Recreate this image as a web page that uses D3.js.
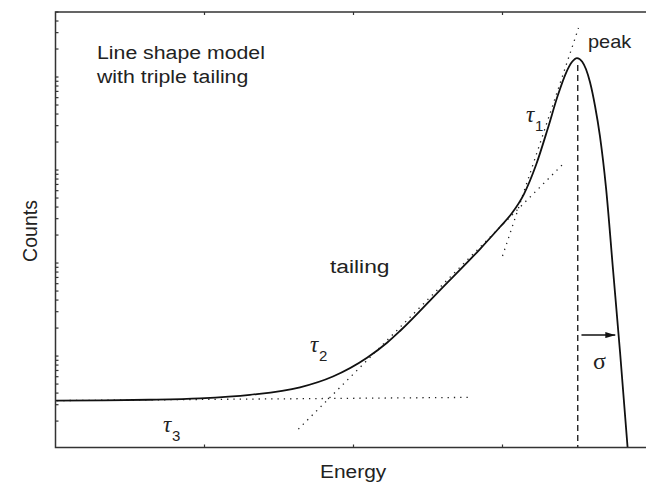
<!DOCTYPE html>
<html>
<head>
<meta charset="utf-8">
<script src="https://cdn.jsdelivr.net/npm/d3@7"></script>
<style>
  body { margin: 0; background: #fff; }
  svg { display: block; }
  .lbl { font-family: "Liberation Sans", Arial, sans-serif; fill: #222; }
  .greek { font-family: "Liberation Serif", "Times New Roman", serif; fill: #222; }
</style>
</head>
<body>
<svg id="chart" width="646" height="484"></svg>
<script>
// line shape (energy in arbitrary units, counts on log scale)
const energy = [0.00, 0.30, 0.63, 0.97, 1.305, 1.641, 1.862, 2.091, 2.225, 2.312, 2.581, 2.849,
  2.983, 3.064, 3.144, 3.225, 3.305, 3.372, 3.426, 3.466, 3.500, 3.534, 3.560, 3.587, 3.621,
  3.654, 3.695, 3.742, 3.789, 3.842];
const counts = [3.32, 3.34, 3.39, 3.51, 3.83, 4.61, 6.03, 9.59, 13.9, 18.6, 51.3, 141.5,
  244, 345, 552, 1132, 2830, 6400, 11040, 14490, 16000, 14680, 12190, 8830, 4880,
  2320, 640, 84.1, 11.0, 0.93];

// tangent lines of the three tailing slopes [energy, counts]
const tau1Line = [[3.00, 119], [3.51, 33600]];
const tau2Line = [[1.63, 1.64], [3.42, 1220]];
const tau3Line = [[0.01, 3.32], [2.80, 3.60]];

const peakEnergy = 3.505;
const peakTop = 13500;
const sigmaArrow = [3.53, 3.757];
const sigmaCounts = 16.8;

const xTicks = [1, 2, 3];

const svg = d3.select("#chart");
const mLeft = 55.5, mTop = 12, mBottom = 447.5, mRight = 651.5;

const x = d3.scaleLinear().domain([0, 4]).range([mLeft, mRight]);
const y = d3.scaleLog().domain([1.04, 50000]).range([mBottom, mTop]);

svg.append("clipPath").attr("id", "plotClip")
  .append("rect")
  .attr("x", mLeft).attr("y", mTop)
  .attr("width", mRight - mLeft).attr("height", mBottom - mTop);

const plot = svg.append("g").attr("clip-path", "url(#plotClip)");

// dotted tangents
const seg = d3.line().x(d => x(d[0])).y(d => y(d[1]));
plot.selectAll("path.tangent")
  .data([tau1Line, tau2Line, tau3Line])
  .join("path")
  .attr("class", "tangent")
  .attr("d", seg)
  .attr("fill", "none")
  .attr("stroke", "#222")
  .attr("stroke-width", 1.3)
  .attr("stroke-dasharray", "1.3,5");

// dashed peak position
plot.append("line")
  .attr("x1", x(peakEnergy)).attr("x2", x(peakEnergy))
  .attr("y1", y(peakTop)).attr("y2", mBottom)
  .attr("stroke", "#222")
  .attr("stroke-width", 1.4)
  .attr("stroke-dasharray", "6,4");

// main curve
const shape = energy.map((e, i) => [e, counts[i]]);
plot.append("path")
  .datum(shape)
  .attr("d", d3.line().x(d => x(d[0])).y(d => y(d[1])).curve(d3.curveMonotoneX))
  .attr("fill", "none")
  .attr("stroke", "#111")
  .attr("stroke-width", 1.8);

// sigma arrow
svg.append("defs").append("marker")
  .attr("id", "arrowHead")
  .attr("viewBox", "0 0 10 6")
  .attr("refX", 10).attr("refY", 3)
  .attr("markerWidth", 10).attr("markerHeight", 6)
  .attr("markerUnits", "userSpaceOnUse")
  .attr("orient", "auto")
  .append("path")
  .attr("d", "M0,0 L10,3 L0,6 Z")
  .attr("fill", "#111");

svg.append("line")
  .attr("x1", x(sigmaArrow[0])).attr("x2", x(sigmaArrow[1]))
  .attr("y1", y(sigmaCounts)).attr("y2", y(sigmaCounts))
  .attr("stroke", "#111")
  .attr("stroke-width", 1.5)
  .attr("marker-end", "url(#arrowHead)");

// frame
svg.append("rect")
  .attr("x", mLeft).attr("y", mTop)
  .attr("width", mRight - mLeft).attr("height", mBottom - mTop)
  .attr("fill", "none")
  .attr("stroke", "#333")
  .attr("stroke-width", 1.5);

// log ticks on the left, inside
svg.append("g")
  .selectAll("line")
  .data(y.ticks())
  .join("line")
  .attr("x1", mLeft).attr("x2", mLeft + 3)
  .attr("y1", d => y(d)).attr("y2", d => y(d))
  .attr("stroke", "#333")
  .attr("stroke-width", 1.2);

// x ticks top and bottom, inside
svg.append("g")
  .selectAll("line")
  .data(xTicks.flatMap(t => [[t, mBottom, mBottom - 3], [t, mTop, mTop + 3]]))
  .join("line")
  .attr("x1", d => x(d[0])).attr("x2", d => x(d[0]))
  .attr("y1", d => d[1]).attr("y2", d => d[2])
  .attr("stroke", "#333")
  .attr("stroke-width", 1.2);

// texts
function label(txt, px, py, size, stretch) {
  svg.append("text")
    .attr("class", "lbl")
    .attr("transform", `translate(${px},${py}) scale(${stretch},1)`)
    .attr("font-size", size)
    .text(txt);
}
label("Line shape model", 97, 59, 19, 1.12);
label("with triple tailing", 97, 83, 19, 1.12);
label("peak", 588, 48, 19, 1.05);
label("tailing", 330, 273, 19, 1.2);
label("Energy", 320, 478, 19, 1.1);

svg.append("text")
  .attr("class", "lbl")
  .attr("transform", "translate(37,231) rotate(-90)")
  .attr("text-anchor", "middle")
  .attr("font-size", 19.5)
  .text("Counts");

function tau(sub, px, py) {
  svg.append("text")
    .attr("class", "greek")
    .attr("x", px).attr("y", py)
    .attr("font-size", 23)
    .attr("font-style", "italic")
    .text("τ");
  svg.append("text")
    .attr("class", "lbl")
    .attr("x", px + 9).attr("y", py + 9)
    .attr("font-size", 15)
    .text(sub);
}
tau("1", 526, 122);
tau("2", 310, 352);
tau("3", 163, 432);

svg.append("text")
  .attr("class", "greek")
  .attr("x", 593).attr("y", 369)
  .attr("font-size", 24)
  .text("σ");
</script>
</body>
</html>
